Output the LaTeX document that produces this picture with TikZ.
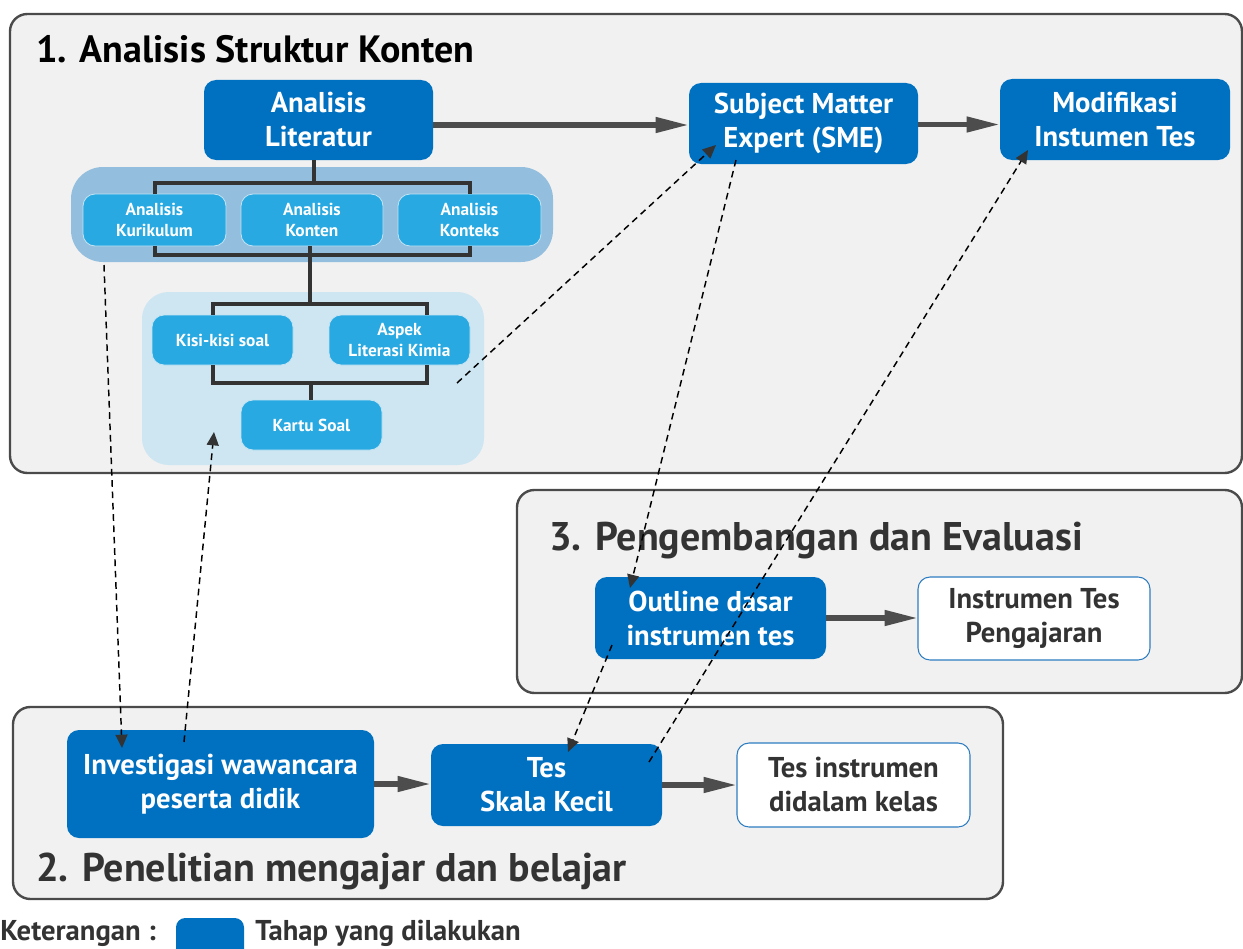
\documentclass[tikz,border=0pt]{standalone}
\usepackage{fontspec}
\setmainfont{PT Sans}
\usetikzlibrary{arrows.meta,calc}
\definecolor{dblue}{HTML}{0070C0}
\definecolor{lblue}{HTML}{29A9E1}
\definecolor{lborder}{HTML}{C4E4F4}
\definecolor{gonecol}{HTML}{93BEDD}
\definecolor{gtwocol}{HTML}{CDE6F1}
\definecolor{panelbg}{HTML}{F1F1F1}
\definecolor{panelln}{HTML}{4A4A4A}
\definecolor{txtdark}{HTML}{333333}
\definecolor{arrowgray}{HTML}{4D4D4D}
\definecolor{wborder}{HTML}{2E7DC1}
\newcommand\pbox[7]{\node[#6, minimum width={(#4-#2)*0.75pt}, minimum height={(#5-#3)*0.75pt}] (#1) at ({(#2+#4)/2},{(#3+#5)/2}) {#7};}
\begin{document}
\begin{tikzpicture}[x=0.75pt,y=-0.75pt,
  panel/.style={draw=panelln, fill=panelbg, line width=1.8pt, rounded corners=13pt},
  ptitle/.style={anchor=base west, inner sep=0pt, font=\bfseries\fontsize{30}{34}\selectfont},
  darkbox/.style={fill=dblue, rounded corners=9pt, text=white, font=\bfseries\fontsize{21.5}{25.5}\selectfont, align=center, inner sep=0pt, outer sep=0pt},
  whitebox/.style={fill=white, draw=wborder, line width=0.8pt, rounded corners=9pt, text=txtdark, font=\bfseries\fontsize{21.5}{25.5}\selectfont, align=center, inner sep=0pt, outer sep=0pt},
  smallbox/.style={fill=lblue, draw=lborder, line width=0.6pt, rounded corners=9pt, text=white, font=\bfseries\fontsize{13}{15.5}\selectfont, align=center, inner sep=0pt, outer sep=0pt},
  groupone/.style={fill=gonecol, rounded corners=24pt, inner sep=0pt},
  grouptwo/.style={fill=gtwocol, rounded corners=20pt, inner sep=0pt},
  tree/.style={draw=txtdark, line width=3pt},
  bigarrow/.style={draw=arrowgray, line width=4pt, -{Triangle[length=25pt,width=11pt]}},
  dasharrow/.style={draw=black, line width=1.1pt, dash pattern=on 5pt off 3.5pt, -{Triangle[length=10pt,width=9pt,color=txtdark]}},
  legendtext/.style={anchor=base west, inner sep=0pt, text=txtdark, font=\bfseries\fontsize{21.5}{25}\selectfont}
]
\useasboundingbox (0,0) rectangle (1243,949);
\fill[white] (0,0) rectangle (1243,949);

% panels
\draw[panel] (10,14) rectangle (1242,473);
\draw[panel] (517,490) rectangle (1242,693);
\draw[panel] (13,707) rectangle (1003,899);

\node[ptitle, text=black, font=\bfseries\fontsize{28.5}{34}\selectfont] (t1) at (36,63) {1. Analisis Struktur Konten};
\node[ptitle, text=txtdark] (t3) at (549,550) {3. Pengembangan dan Evaluasi};
\node[ptitle, text=txtdark] (t2) at (36,881) {2. Penelitian mengajar dan belajar};

% groups
\pbox{gone}{71}{167}{553}{262}{groupone}{}
\pbox{gtwo}{142}{292}{484}{465}{grouptwo}{}

% main boxes
\pbox{lit}{204}{80}{433}{160}{darkbox}{Analisis\\Literatur}
\pbox{sme}{689}{83}{918}{164}{darkbox}{Subject Matter\\Expert (SME)}
\pbox{mod}{1000}{79}{1230}{160}{darkbox}{Modifikasi\\Instumen Tes}
\pbox{out}{595}{577}{826}{659}{darkbox}{Outline dasar\\instrumen tes}
\pbox{ins}{918}{577}{1150}{660}{whitebox}{Instrumen Tes\\Pengajaran}
\pbox{inv}{67}{730}{374}{838}{darkbox}{Investigasi wawancara\\peserta didik}
\pbox{tes}{431}{744}{662}{826}{darkbox}{Tes\\Skala Kecil}
\pbox{tin}{737}{743}{970}{827}{whitebox}{Tes instrumen\\didalam kelas}

% small boxes
\pbox{kur}{83}{194}{226}{246}{smallbox}{Analisis\\Kurikulum}
\pbox{kon}{241}{194}{383}{246}{smallbox}{Analisis\\Konten}
\pbox{kts}{398}{194}{541}{246}{smallbox}{Analisis\\Konteks}
\pbox{kisi}{152}{315}{293}{365}{smallbox}{Kisi-kisi soal}
\pbox{asp}{329}{315}{470}{365}{smallbox}{Aspek\\Literasi Kimia}
\pbox{kar}{241}{400}{382}{450}{smallbox}{Kartu Soal}

% tree lines
\draw[tree] ($(lit.south)+(-5,0)$) -- ++(0,23);
\draw[tree] (kur.north) -- ++(0,-11) -| (kts.north);
\draw[tree] (kur.south) -- ++(0,9) -| (kts.south);
\draw[tree] ($(kon.south)+(-2,0)$) -- ++(0,58);
\draw[tree] ($(kisi.north)+(-10,0)$) -- ++(0,-11) -| ($(asp.north)+(27,0)$);
\draw[tree] ($(kisi.south)+(-10,0)$) -- ++(0,18) -| ($(asp.south)+(27,0)$);
\draw[tree] ($(kar.north)+(-1,0)$) -- ++(0,-17);

% solid arrows
\draw[bigarrow] ($(lit.east)+(0,5)$) -- ($(lit.east -| sme.west)+(0,5)$);
\draw[bigarrow] ($(sme.east)+(0,1)$) -- ($(sme.east -| mod.west)+(0,1)$);
\draw[bigarrow] (out.east) -- (out.east -| ins.west);
\draw[bigarrow] (inv.east) -- (inv.east -| tes.west);
\draw[bigarrow] (tes.east) -- (tes.east -| tin.west);

% dashed arrows
\coordinate (d1s) at (104,265);
\coordinate (d1e) at (122,748);
\coordinate (d2s) at (184,742);
\coordinate (d2e) at (214,432);
\coordinate (d3s) at (457,383);
\coordinate (d3e) at (716,145);
\coordinate (d4s) at (736,160);
\coordinate (d4e) at (630,588);
\coordinate (d5s) at (612,645);
\coordinate (d5e) at (568,752);
\coordinate (d6s) at (649,762);
\coordinate (d6e) at (1028,150);
\draw[dasharrow] (d1s) -- (d1e);
\draw[dasharrow] (d2s) -- (d2e);
\draw[dasharrow] (d3s) -- (d3e);
\draw[dasharrow] (d4s) -- (d4e);
\draw[dasharrow] (d5s) -- (d5e);
\draw[dasharrow] (d6s) -- (d6e);

% legend
\node[legendtext] (ket) at (0,940) {Keterangan :};
\fill[dblue, rounded corners=7pt] (176,918) rectangle (244,975);
\node[legendtext] (tah) at (255,940) {Tahap yang dilakukan};
\end{tikzpicture}
\end{document}
